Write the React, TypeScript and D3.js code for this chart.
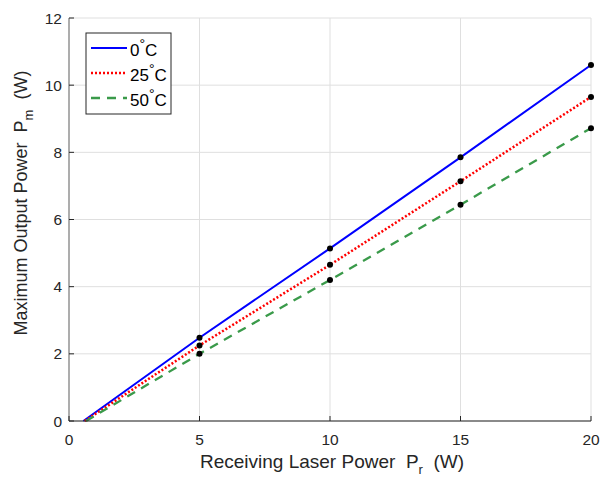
import React from "react";
import * as d3 from "d3";

const xPoints = [5, 10, 15, 20];
const startX = [0.55, 0.6, 0.65];
const series0 = [2.48, 5.14, 7.85, 10.6];
const series25 = [2.25, 4.65, 7.14, 9.65];
const series50 = [2.0, 4.2, 6.44, 8.72];
const seriesNames = ["0", "25", "50"];
const xTicks = [0, 5, 10, 15, 20];
const yTicks = [0, 2, 4, 6, 8, 10, 12];

const W = 602, H = 477;
const M = { left: 69, right: 591, top: 18, bottom: 421 };

export default function App() {
  const x = d3.scaleLinear().domain([0, 20]).range([M.left, M.right]);
  const y = d3.scaleLinear().domain([0, 12]).range([M.bottom, M.top]);
  const line = d3.line<[number, number]>().x(d => x(d[0])).y(d => y(d[1]));
  const all = [series0, series25, series50];
  const styles = [
    { color: "#0000ff", dash: undefined as string | undefined, width: 2 },
    { color: "#ff0000", dash: "2,2", width: 2.5 },
    { color: "#3a9a4a", dash: "9,7", width: 2.3 },
  ];
  const font = "'Liberation Sans', Arial, sans-serif";
  return (
    <svg width={W} height={H} style={{ position: "absolute", left: 0, top: 0, background: "#fff" }} fontFamily={font}>
      <rect x={0} y={0} width={W} height={H} fill="#fff" />
      {xTicks.map(t => (
        <line key={"gx" + t} x1={x(t)} x2={x(t)} y1={M.top} y2={M.bottom} stroke="#dfdfdf" strokeWidth={1} />
      ))}
      {yTicks.map(t => (
        <line key={"gy" + t} x1={M.left} x2={M.right} y1={y(t)} y2={y(t)} stroke="#dfdfdf" strokeWidth={1} />
      ))}
      {all.map((s, i) => {
        const pts: [number, number][] = [[startX[i], 0], ...xPoints.map((xv, j) => [xv, s[j]] as [number, number])];
        return (
          <path key={"l" + i} d={line(pts) || ""} fill="none" stroke={styles[i].color}
            strokeWidth={styles[i].width} strokeDasharray={styles[i].dash} />
        );
      })}
      {all.map((s, i) =>
        xPoints.map((xv, j) => (
          <circle key={"p" + i + "-" + j} cx={x(xv)} cy={y(s[j])} r={3} fill="#000" />
        ))
      )}
      <line x1={M.left} x2={M.left} y1={M.top} y2={M.bottom} stroke="#808080" strokeWidth={1.2} />
      <line x1={M.left} x2={M.right} y1={M.bottom} y2={M.bottom} stroke="#262626" strokeWidth={1.2} />
      {xTicks.map(t => (
        <g key={"tx" + t}>
          <line x1={x(t)} x2={x(t)} y1={M.bottom} y2={M.bottom - 5} stroke="#262626" />
          <text x={x(t)} y={445} textAnchor="middle" fontSize={15.5} fill="#262626">{t}</text>
        </g>
      ))}
      {yTicks.map(t => (
        <g key={"ty" + t}>
          <line x1={M.left} x2={M.left + 5} y1={y(t)} y2={y(t)} stroke="#262626" />
          <text x={62} y={y(t) + 5.5} textAnchor="end" fontSize={15.5} fill="#262626">{t}</text>
        </g>
      ))}
      <text x={332} y={468} textAnchor="middle" fontSize={19} fill="#262626">
        Receiving Laser Power{"\u00a0\u00a0"}P<tspan dy={6} fontSize={13}>r</tspan><tspan dy={-6}>{"\u00a0\u00a0"}(W)</tspan>
      </text>
      <text transform={`translate(27,203) rotate(-90)`} textAnchor="middle" fontSize={18} fill="#262626">
        Maximum Output Power{"\u00a0\u00a0"}P<tspan dy={6} fontSize={13}>m</tspan><tspan dy={-6}>{"\u00a0\u00a0"}(W)</tspan>
      </text>
      <rect x={86} y={33} width={85} height={81} fill="#fff" stroke="#262626" strokeWidth={1} />
      {seriesNames.map((n, i) => {
        const ly = 48 + i * 25;
        return (
          <g key={"lg" + i}>
            <line x1={91} x2={127} y1={ly} y2={ly} stroke={styles[i].color} strokeWidth={styles[i].width}
              strokeDasharray={styles[i].dash} />
            <text x={130} y={ly + 8} fontSize={17} fill="#000">
              {n}<tspan dy={-7} fontSize={14}>{"\u00b0"}</tspan><tspan dy={7}>C</tspan>
            </text>
          </g>
        );
      })}
    </svg>
  );
}
